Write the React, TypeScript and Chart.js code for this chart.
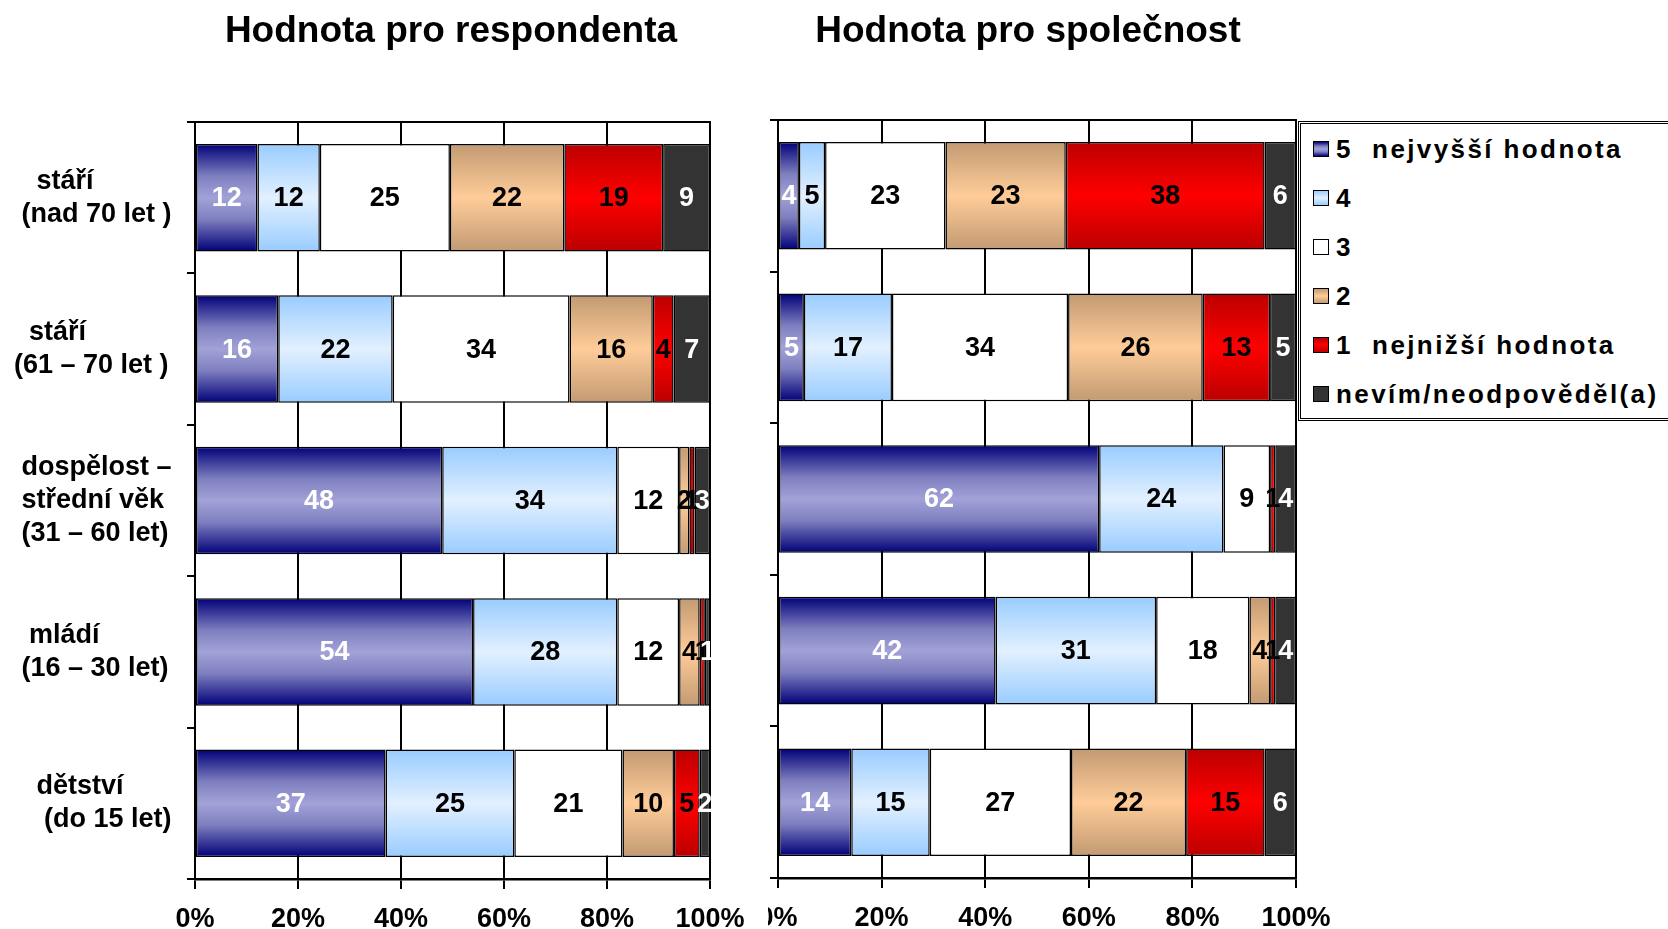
import React, { useEffect, useRef } from "react";
import { Chart, registerables } from "chart.js";

Chart.register(...registerables);

// ---------- data ----------
const categoryLabels: string[][] = [
  ["   stáří", " (nad 70 let )"],
  ["  stáří", "(61 – 70 let )"],
  [" dospělost –", " střední věk", " (31 – 60 let)"],
  ["  mládí", " (16 – 30 let)"],
  ["   dětství", "    (do 15 let)"],
];

const seriesNames = [
  "5  nejvyšší hodnota",
  "4",
  "3",
  "2",
  "1  nejnižší hodnota",
  "nevím/neodpověděl(a)",
];

// Hodnota pro respondenta
const resp5 = [12, 16, 48, 54, 37];
const resp4 = [12, 22, 34, 28, 25];
const resp3 = [25, 34, 12, 12, 21];
const resp2 = [22, 16, 2, 4, 10];
const resp1 = [19, 4, 1, 1, 5];
const respNA = [9, 7, 3, 1, 2];

// Hodnota pro společnost
const soc5 = [4, 5, 62, 42, 14];
const soc4 = [5, 17, 24, 31, 15];
const soc3 = [23, 34, 9, 18, 27];
const soc2 = [23, 26, 0, 4, 22];
const soc1 = [38, 13, 1, 1, 15];
const socNA = [6, 5, 4, 4, 6];

const xTickStep = 20;
const titleLeft = "Hodnota pro respondenta";
const titleRight = "Hodnota pro společnost";

// ---------- styles ----------
const FONT = '"Liberation Sans", Arial, Helvetica, sans-serif';
const BAR_PCT = 0.71;

type Stop = [number, string];
const seriesStops: Stop[][] = [
  [[0, "#000078"], [0.3, "#7f7fc0"], [0.5, "#a2a2d8"], [0.7, "#7f7fc0"], [1, "#000078"]],
  [[0, "#99ccff"], [0.5, "#e2f0ff"], [1, "#99ccff"]],
  [[0, "#ffffff"], [1, "#ffffff"]],
  [[0, "#c29a72"], [0.5, "#ffcc99"], [1, "#c29a72"]],
  [[0, "#bb0000"], [0.5, "#ff0000"], [1, "#bb0000"]],
  [[0, "#333333"], [1, "#333333"]],
];
const labelColors = ["#ffffff", "#000000", "#000000", "#000000", "#000000", "#ffffff"];

function makeFill(stops: Stop[]) {
  return (c: any) => {
    const chart = c.chart;
    const ys = chart.scales && chart.scales.y;
    const mid = stops[Math.floor(stops.length / 2)][1];
    if (c.type !== "data" || !ys || !isFinite(ys.height) || ys.height <= 0) return mid;
    const yc = ys.getPixelForValue(c.dataIndex);
    const half = ((ys.height / categoryLabels.length) * BAR_PCT) / 2;
    const g = chart.ctx.createLinearGradient(0, yc - half, 0, yc + half);
    stops.forEach(([o, col]) => g.addColorStop(o, col));
    return g;
  };
}

const valueLabelPlugin = {
  id: "valueLabels",
  afterDatasetsDraw(chart: any) {
    const ctx = chart.ctx;
    ctx.save();
    ctx.font = `bold 27px ${FONT}`;
    ctx.textAlign = "center";
    ctx.textBaseline = "middle";
    chart.data.datasets.forEach((ds: any, di: number) => {
      const meta = chart.getDatasetMeta(di);
      meta.data.forEach((el: any, i: number) => {
        const v = ds.rawValues[i];
        if (!v) return;
        const p = el.getProps(["x", "base", "y"], true);
        ctx.fillStyle = ds.labelColor;
        ctx.fillText(String(v), (p.x + p.base) / 2, p.y + 1);
      });
    });
    ctx.restore();
  },
};

const framePlugin = {
  id: "plotFrame",
  beforeDatasetsDraw(chart: any) {
    const { left, top, right, bottom } = chart.chartArea;
    const ctx = chart.ctx;
    ctx.save();
    ctx.strokeStyle = "#000";
    ctx.lineWidth = 2;
    ctx.strokeRect(left, top, right - left, bottom - top);
    ctx.restore();
  },
};

function buildConfig(
  series: number[][],
  showCategoryLabels: boolean,
  padding: { left: number; right: number; top: number; bottom: number },
  yWidth: number,
  xHeight: number
): any {
  const rowSums = categoryLabels.map((_, r) => series.reduce((s, arr) => s + arr[r], 0));
  const datasets = series.map((arr, si) => ({
    label: seriesNames[si],
    data: arr.map((v, r) => (v / rowSums[r]) * 100),
    rawValues: arr,
    labelColor: labelColors[si],
    backgroundColor: makeFill(seriesStops[si]),
    borderColor: "#000",
    borderWidth: 1.5,
    borderSkipped: false,
    barPercentage: BAR_PCT,
    categoryPercentage: 1,
  }));
  return {
    type: "bar",
    data: { labels: categoryLabels, datasets },
    plugins: [framePlugin, valueLabelPlugin],
    options: {
      indexAxis: "y",
      responsive: false,
      maintainAspectRatio: false,
      animation: false,
      layout: { padding },
      plugins: { legend: { display: false }, tooltip: { enabled: false }, title: { display: false } },
      scales: {
        x: {
          stacked: true,
          min: 0,
          max: 100,
          ticks: {
            stepSize: xTickStep,
            callback: (v: any) => v + "%",
            font: { family: FONT, size: 27, weight: "bold" },
            color: "#000",
            padding: 14,
            maxRotation: 0,
          },
          grid: { color: "#000", lineWidth: 2, tickLength: 10, drawTicks: true },
          border: { color: "#000", width: 2.5 },
          afterFit: (s: any) => {
            s.height = xHeight;
            s.paddingLeft = 0;
            s.paddingRight = 0;
          },
        },
        y: {
          stacked: true,
          ticks: {
            display: showCategoryLabels,
            crossAlign: "far",
            font: { family: FONT, size: 27, weight: "bold", lineHeight: 1.22 },
            color: "#000",
            padding: 10,
            autoSkip: false,
          },
          grid: { drawOnChartArea: false, offset: true, tickLength: 8, color: "#000", lineWidth: 2 },
          border: { color: "#000", width: 2 },
          afterFit: (s: any) => {
            s.width = yWidth;
            s.paddingTop = 0;
            s.paddingBottom = 0;
          },
        },
      },
    },
  };
}

function BarChart(props: {
  series: number[][];
  showLabels: boolean;
  left: number;
  width: number;
  padding: { left: number; right: number; top: number; bottom: number };
  yWidth: number;
  xHeight: number;
}) {
  const ref = useRef<HTMLCanvasElement | null>(null);
  useEffect(() => {
    if (!ref.current) return;
    const chart = new Chart(
      ref.current,
      buildConfig(props.series, props.showLabels, props.padding, props.yWidth, props.xHeight)
    );
    return () => chart.destroy();
  }, []);
  return (
    <canvas
      ref={ref}
      width={props.width}
      height={929}
      style={{ position: "absolute", left: props.left, top: 0, width: props.width, height: 929 }}
    />
  );
}

function Legend() {
  return (
    <div
      style={{
        position: "absolute",
        left: 1298,
        top: 121,
        width: 420,
        border: "3px double #000",
        background: "#fff",
        paddingTop: 0,
        zIndex: 2,
      }}
    >
      {seriesNames.map((name, i) => {
        const stops = seriesStops[i];
        const grad =
          "linear-gradient(to bottom, " +
          stops.map(([o, c]) => `${c} ${Math.round(o * 100)}%`).join(", ") +
          ")";
        return (
          <div
            key={i}
            style={{ height: 49, display: "flex", alignItems: "center", whiteSpace: "pre" }}
          >
            <span
              style={{
                display: "inline-block",
                width: 14,
                height: 14,
                marginLeft: 12,
                marginRight: 7,
                border: "1.5px solid #000",
                background: grad,
                flex: "0 0 auto",
              }}
            />
            <span
              style={{
                fontFamily: FONT,
                fontWeight: "bold",
                fontSize: 26,
                letterSpacing: 2.4,
                color: "#000",
                lineHeight: "30px",
              }}
            >
              {name}
            </span>
          </div>
        );
      })}
    </div>
  );
}

const titleStyle = (cx: number): React.CSSProperties => ({
  position: "absolute",
  left: cx - 300,
  width: 600,
  top: 8,
  textAlign: "center",
  fontFamily: FONT,
  fontWeight: "bold",
  fontSize: 37,
  lineHeight: "44px",
  color: "#000",
  whiteSpace: "nowrap",
});

export default function App() {
  return (
    <div
      style={{
        position: "absolute",
        left: 0,
        top: 0,
        width: 1668,
        height: 929,
        overflow: "hidden",
        background: "#fff",
      }}
    >
      <BarChart
        series={[resp5, resp4, resp3, resp2, resp1, respNA]}
        showLabels={true}
        left={0}
        width={768}
        padding={{ left: 14, right: 58, top: 122, bottom: 0 }}
        yWidth={181}
        xHeight={50}
      />
      <BarChart
        series={[soc5, soc4, soc3, soc2, soc1, socNA]}
        showLabels={false}
        left={768}
        width={900}
        padding={{ left: 0, right: 372, top: 120, bottom: 0 }}
        yWidth={10}
        xHeight={51}
      />
      <div style={titleStyle(451)}>{titleLeft}</div>
      <div style={titleStyle(1028)}>{titleRight}</div>
      <Legend />
    </div>
  );
}
